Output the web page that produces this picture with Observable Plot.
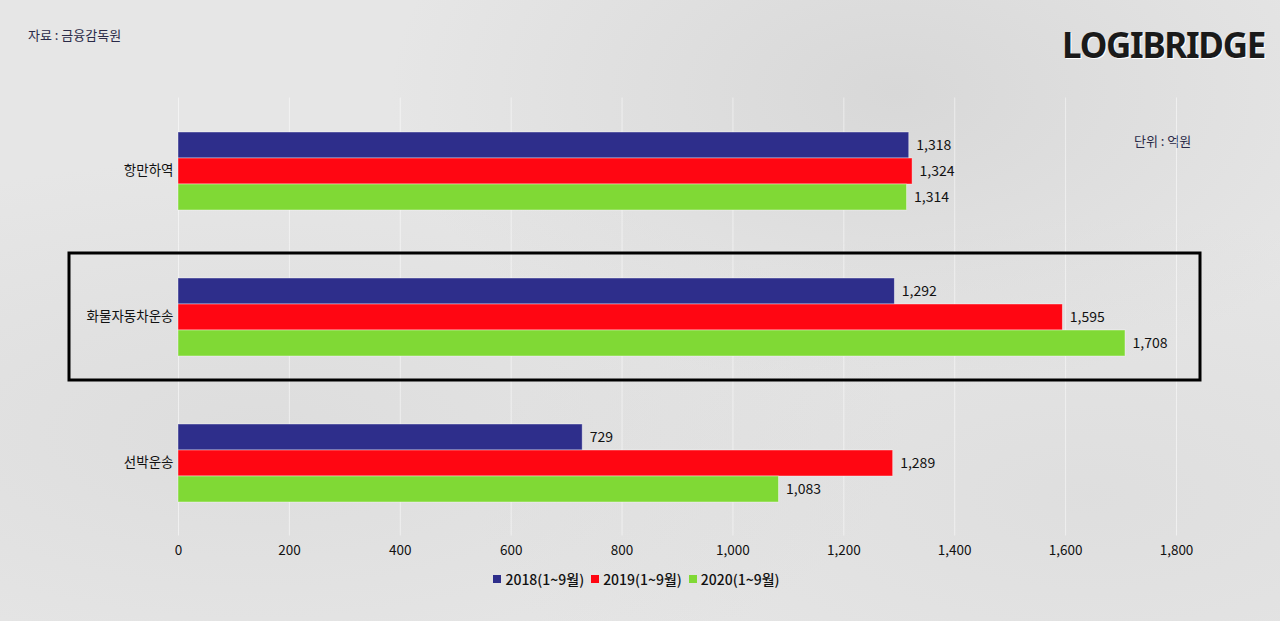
<!DOCTYPE html>
<html>
<head>
<meta charset="utf-8">
<script src="https://cdn.jsdelivr.net/npm/d3@7"></script>
<script src="https://cdn.jsdelivr.net/npm/@observablehq/plot@0.6"></script>
<style>
  body { margin: 0; }
  #page {
    position: relative;
    width: 1280px;
    height: 621px;
    overflow: hidden;
    font-family: 'Noto Sans CJK KR', 'Noto Sans', sans-serif;
    background:
      radial-gradient(ellipse at 70% 15%, rgba(190,190,190,0.35), rgba(0,0,0,0) 40%),
      radial-gradient(ellipse at 20% 70%, rgba(200,200,200,0.3), rgba(0,0,0,0) 45%),
      radial-gradient(ellipse at 85% 80%, rgba(205,205,205,0.3), rgba(0,0,0,0) 40%),
      #e6e6e6;
  }
  .note { position: absolute; font-size: 13px; color: #2a2a48; }
  #brand {
    position: absolute; right: 15px; top: 27px;
    font-family: 'Noto Sans', sans-serif; font-weight: 700; font-size: 35px;
    color: #1a1a1a; letter-spacing: -1.3px; line-height: 1;
    text-shadow: 1px 1px 0 #fff;
  }
  #chart { position: absolute; left: 0; top: 0; }
  #legend { position: absolute; left: 0; top: 562px; width: 1280px; }
  .lg-swatches-wrap { justify-content: center; }
  .lg-swatch { margin-right: 7px !important; }
  .lg-swatch > svg { margin-right: 4px !important; }
</style>
</head>
<body>
<div id="page">
  <div class="note" style="left:28px; top:25px;">자료 : 금융감독원</div>
  <div id="brand">LOGIBRIDGE</div>
  <div class="note" style="left:1134px; top:131px;">단위 : 억원</div>
  <div id="chart"></div>
  <div id="legend"></div>
</div>
<script>
const categories = ['항만하역', '화물자동차운송', '선박운송']
const series = ['2018(1~9월)', '2019(1~9월)', '2020(1~9월)']
const v2018 = [1318, 1292, 729]
const v2019 = [1324, 1595, 1289]
const v2020 = [1314, 1708, 1083]
const colors = ['#2e2e8b', '#ff0612', '#80d935']
const xTicks = [0, 200, 400, 600, 800, 1000, 1200, 1400, 1600, 1800]
const highlighted = ['화물자동차운송']

const valuesBySeries = [v2018, v2019, v2020]
const data = categories.flatMap((c, i) =>
  series.map((s, j) => ({category: c, series: s, value: valuesBySeries[j][i]})))

const fmt = d3.format(',')

let chart = Plot.plot({
  width: 1280,
  height: 562,
  marginLeft: 178,
  marginRight: 104,
  marginTop: 97,
  marginBottom: 25,
  x: {
    domain: [0, 1800],
    ticks: xTicks,
    tickFormat: fmt,
    tickSize: 0,
    tickPadding: 43,
    label: null
  },
  y: {domain: series, axis: null, padding: 0},
  fy: {
    domain: categories,
    paddingInner: 0.456,
    paddingOuter: 0.228,
    axis: 'left',
    label: null,
    tickSize: 0,
    tickPadding: 5
  },
  color: {domain: series, range: colors},
  style: {
    background: 'transparent',
    fontFamily: "'Noto Sans CJK KR', sans-serif",
    fontSize: '13.5px',
    color: '#111'
  },
  marks: [
    Plot.gridX(xTicks, {stroke: 'white', strokeOpacity: 0.5, insetTop: -33.5, insetBottom: -33.5}),
    Plot.barX(data, {
      x: 'value', y: 'series', fy: 'category', fill: 'series',
      stroke: 'white', strokeOpacity: 0.5, strokeWidth: 0.8
    }),
    Plot.text(data, {
      x: 'value', y: 'series', fy: 'category',
      text: d => fmt(d.value),
      textAnchor: 'start', dx: 7, fontSize: 14, fill: '#111'
    }),
    Plot.rect(highlighted, {
      fy: d => d,
      fill: 'none', stroke: '#000', strokeWidth: 3,
      insetLeft: -109, insetRight: -24, insetTop: -24, insetBottom: -24
    })
  ]
})

d3.select('#chart').append(() => chart)

let legend = Plot.legend({
  color: {domain: series, range: colors},
  swatchSize: 8,
  className: 'lg',
  style: {fontSize: '14px', fontFamily: "'Noto Sans CJK KR', sans-serif", fontWeight: 500, color: '#111'}
})
d3.select('#legend').append(() => legend)
</script>
</body>
</html>
